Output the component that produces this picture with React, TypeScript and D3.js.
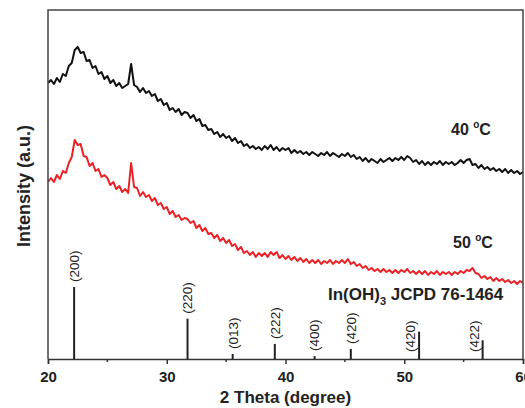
import React, { useEffect, useRef } from 'react';
import * as d3 from 'd3';

// 2-theta grid of the scans (degrees)
const theta = [
  20, 20.25, 20.5, 20.75, 21, 21.25, 21.5, 21.75, 22, 22.25, 22.5, 22.75, 23, 23.25, 23.5, 23.75,
  24, 24.25, 24.5, 24.75, 25, 25.25, 25.5, 25.75, 26, 26.25, 26.5, 26.75, 27, 27.25, 27.5, 27.75,
  28, 28.25, 28.5, 28.75, 29, 29.25, 29.5, 29.75, 30, 30.25, 30.5, 30.75, 31, 31.25, 31.5, 31.75,
  32, 32.25, 32.5, 32.75, 33, 33.25, 33.5, 33.75, 34, 34.25, 34.5, 34.75, 35, 35.25, 35.5, 35.75,
  36, 36.25, 36.5, 36.75, 37, 37.25, 37.5, 37.75, 38, 38.25, 38.5, 38.75, 39, 39.25, 39.5, 39.75,
  40, 40.25, 40.5, 40.75, 41, 41.25, 41.5, 41.75, 42, 42.25, 42.5, 42.75, 43, 43.25, 43.5, 43.75,
  44, 44.25, 44.5, 44.75, 45, 45.25, 45.5, 45.75, 46, 46.25, 46.5, 46.75, 47, 47.25, 47.5, 47.75,
  48, 48.25, 48.5, 48.75, 49, 49.25, 49.5, 49.75, 50, 50.25, 50.5, 50.75, 51, 51.25, 51.5, 51.75,
  52, 52.25, 52.5, 52.75, 53, 53.25, 53.5, 53.75, 54, 54.25, 54.5, 54.75, 55, 55.25, 55.5, 55.75,
  56, 56.25, 56.5, 56.75, 57, 57.25, 57.5, 57.75, 58, 58.25, 58.5, 58.75, 59, 59.25, 59.5, 59.75,
  60,
];

// intensity (a.u.), 40 °C sample
const scan40 = [
  276, 279, 275, 281, 277, 285, 283, 293, 296, 309, 312, 306, 307, 298, 299, 291,
  293, 285, 287, 280, 283, 276, 279, 273, 276, 271, 273, 275, 295, 274, 272, 267,
  271, 266, 268, 263, 265, 258, 260, 254, 256, 249, 251, 247, 250, 244, 247, 246,
  241, 244, 238, 240, 233, 234, 229, 230, 225, 227, 222, 225, 221, 223, 218, 221,
  216, 218, 213, 215, 211, 213, 210, 212, 209, 213, 210, 214, 209, 212, 208, 211,
  209, 211, 206, 209, 206, 208, 205, 207, 204, 207, 205, 203, 206, 204, 207, 203,
  206, 204, 202, 205, 203, 206, 202, 204, 200, 202, 198, 201, 197, 200, 198, 196,
  200, 197, 199, 201, 198, 201, 199, 202, 199, 203, 201, 197, 199, 195, 198, 194,
  197, 194, 197, 195, 198, 194, 197, 195, 197, 194, 196, 199, 196, 199, 200, 194,
  195, 191, 194, 190, 192, 189, 191, 188, 190, 187, 190, 186, 189, 186, 188, 185,
  187,
];

// intensity (a.u.), 50 °C sample
const scan50 = [
  177, 181, 177, 184, 180, 188, 186, 196, 202, 219, 214, 215, 203, 202, 193, 196,
  188, 190, 182, 184, 181, 174, 177, 170, 173, 167, 170, 166, 196, 172, 171, 163,
  167, 162, 164, 158, 161, 154, 156, 150, 152, 145, 148, 142, 144, 139, 141, 140,
  136, 138, 131, 134, 128, 131, 125, 126, 121, 124, 118, 121, 116, 119, 113, 115,
  109, 112, 106, 108, 104, 107, 102, 106, 103, 106, 102, 107, 104, 107, 101, 104,
  100, 103, 99, 102, 98, 101, 97, 100, 96, 99, 96, 99, 95, 98, 96, 99,
  95, 98, 96, 99, 96, 100, 95, 97, 93, 95, 91, 93, 89, 91, 88, 90,
  87, 90, 87, 89, 86, 89, 86, 89, 87, 90, 86, 88, 85, 88, 85, 88,
  84, 87, 85, 88, 84, 87, 85, 87, 84, 87, 85, 88, 86, 89, 88, 91,
  86, 85, 81, 83, 80, 82, 78, 81, 78, 80, 77, 79, 76, 78, 75, 78,
  76,
];

// In(OH)3 reference pattern, JCPD 76-1464
const refPos = [22.2, 31.75, 35.55, 39.1, 42.45, 45.5, 51.25, 56.6];
const refInt = [100, 56, 7, 21, 4, 14, 38, 26];
const refHkl = ['(200)', '(220)', '(013)', '(222)', '(400)', '(420)', '(420)', '(422)'];

const xTicks = [20, 30, 40, 50, 60];
const xMinorTicks = [25, 35, 45, 55];

const FONT = '"Liberation Sans", Arial, Helvetica, sans-serif';

export default function App() {
  const svgRef = useRef<SVGSVGElement>(null);
  const width = 525;
  const height = 408;

  useEffect(() => {
    const svg = d3.select(svgRef.current);
    svg.selectAll('*').remove();

    const left = 48, right = 523, top = 10, bottom = 359;

    const x = d3.scaleLinear().domain([20, 60]).range([left, right]);
    const y = d3.scaleLinear().domain([0, 349]).range([bottom, top]);
    const yRef = d3.scaleLinear().domain([0, 100]).range([bottom, 287]);

    const line = d3.line<number>()
      .x((d, i) => x(theta[i]))
      .y(d => y(d));

    // scans
    svg.append('path')
      .datum(scan40)
      .attr('d', line)
      .attr('fill', 'none')
      .attr('stroke', '#111')
      .attr('stroke-width', 2)
      .attr('stroke-linejoin', 'round');

    svg.append('path')
      .datum(scan50)
      .attr('d', line)
      .attr('fill', 'none')
      .attr('stroke', '#ec2227')
      .attr('stroke-width', 2)
      .attr('stroke-linejoin', 'round');

    // reference sticks
    svg.selectAll('.stick')
      .data(refPos)
      .enter()
      .append('line')
      .attr('class', 'stick')
      .attr('x1', d => x(d))
      .attr('x2', d => x(d))
      .attr('y1', bottom)
      .attr('y2', (d, i) => yRef(refInt[i]))
      .attr('stroke', '#222')
      .attr('stroke-width', 2);

    // the last two labels sit beside their sticks
    svg.selectAll('.hkl')
      .data(refPos)
      .enter()
      .append('text')
      .attr('class', 'hkl')
      .attr('transform', (d, i) => {
        const side = i >= 6;
        const px = side ? x(d) - 9 : x(d);
        const py = side ? bottom - 7 : yRef(refInt[i]) - 5;
        return `translate(${px},${py}) rotate(-90)`;
      })
      .attr('dy', '0.36em')
      .style('font-family', FONT)
      .style('font-size', '13.5px')
      .style('fill', '#222')
      .text((d, i) => refHkl[i]);

    // frame
    svg.append('path')
      .attr('d', `M${left},${bottom}V${top}H${right}V${bottom}`)
      .attr('fill', 'none')
      .attr('stroke', '#444')
      .attr('stroke-width', 1.5);

    // x axis
    const xAxis = svg.append('g')
      .attr('transform', `translate(0,${bottom})`)
      .call(d3.axisBottom(x).tickValues(xTicks).tickSize(5).tickPadding(7).tickFormat(d3.format('d')));
    xAxis.select('.domain').attr('stroke', '#333').attr('stroke-width', 1.5);
    xAxis.selectAll('.tick line').attr('stroke', '#333').attr('stroke-width', 1.5);
    xAxis.selectAll('text')
      .style('font-family', FONT)
      .style('font-size', '15px')
      .style('font-weight', 'bold')
      .style('fill', '#222');

    svg.append('g')
      .selectAll('line')
      .data(xMinorTicks)
      .enter()
      .append('line')
      .attr('x1', d => x(d))
      .attr('x2', d => x(d))
      .attr('y1', bottom)
      .attr('y2', bottom + 3)
      .attr('stroke', '#333')
      .attr('stroke-width', 1.5);

    // axis titles
    svg.append('text')
      .attr('x', (left + right) / 2)
      .attr('y', 403)
      .attr('text-anchor', 'middle')
      .style('font-family', FONT)
      .style('font-size', '17px')
      .style('font-weight', 'bold')
      .style('fill', '#222')
      .text('2 Theta (degree)');

    svg.append('text')
      .attr('transform', `translate(30,186) rotate(-90)`)
      .attr('text-anchor', 'middle')
      .style('font-family', FONT)
      .style('font-size', '18px')
      .style('font-weight', 'bold')
      .style('fill', '#222')
      .text('Intensity (a.u.)');

    // curve labels
    const tempLabel = (tx: number, ty: number, value: string) => {
      const t = svg.append('text')
        .attr('x', tx)
        .attr('y', ty)
        .style('font-family', FONT)
        .style('font-size', '16px')
        .style('font-weight', 'bold')
        .style('fill', '#222');
      t.append('tspan').text(value + ' ');
      t.append('tspan').attr('dy', -7).style('font-size', '10px').text('o');
      t.append('tspan').attr('dy', 7).text('C');
    };
    tempLabel(451, 135, '40');
    tempLabel(453, 248, '50');

    const refLabel = svg.append('text')
      .attr('x', 328)
      .attr('y', 300)
      .style('font-family', FONT)
      .style('font-size', '17px')
      .style('font-weight', 'bold')
      .style('fill', '#222');
    refLabel.append('tspan').text('In(OH)');
    refLabel.append('tspan').attr('dy', 5).style('font-size', '11px').text('3');
    refLabel.append('tspan').attr('dy', -5).text(' JCPD 76-1464');
  }, []);

  return (
    <svg
      ref={svgRef}
      width={width}
      height={height}
      style={{ position: 'absolute', left: 0, top: 0, background: 'white' }}
    />
  );
}
